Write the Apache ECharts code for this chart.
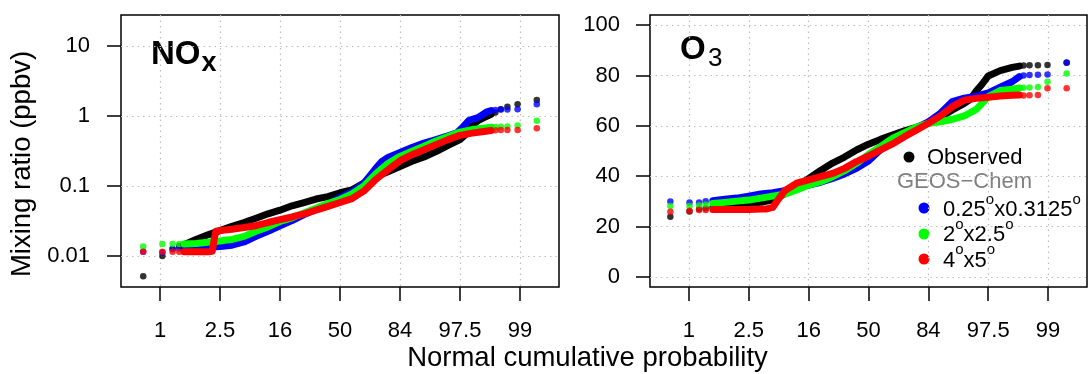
<!DOCTYPE html>
<html><head><meta charset="utf-8">
<script src="https://cdn.jsdelivr.net/npm/echarts@6/dist/echarts.min.js"></script>
<style>html,body{margin:0;padding:0;background:#fff}#c{width:1088px;height:374px}</style>
</head><body><div id="c"></div>
<script>
// ---- tick definitions ----
const xTickPos = [-3, -2, -1, 0, 1, 2, 3];
const xTickLabels = ['1', '2.5', '16', '50', '84', '97.5', '99'];
const noxTickVals = [0.01, 0.1, 1, 10];
const noxTickLabels = ['0.01', '0.1', '1', '10'];
const o3TickVals = [0, 20, 40, 60, 80, 100];

// ---- NOx panel (ppbv), normal quantile z vs value ----
const noxObsZ = [-2.6,-2.4,-2.2,-2.0,-1.8,-1.6,-1.4,-1.2,-1.0,-0.8,-0.6,-0.4,-0.2,0,0.2,0.4,0.6,0.8,1.0,1.2,1.4,1.6,1.8,2.0,2.1,2.2,2.3,2.4,2.52];
const noxObsV = [0.0145,0.0172,0.020,0.023,0.0265,0.030,0.0345,0.040,0.045,0.052,0.058,0.065,0.0705,0.080,0.088,0.110,0.136,0.160,0.190,0.225,0.26,0.31,0.38,0.46,0.55,0.72,0.86,0.95,1.06];
const noxObsTailZ = [-3.28,-2.96,-2.79,-2.68,2.59,2.68,2.79,2.96,3.28];
const noxObsTailV = [0.0051,0.0100,0.0125,0.0138,1.12,1.25,1.36,1.48,1.69];

const noxHiZ = [-2.6,-2.4,-2.2,-2.0,-1.8,-1.6,-1.4,-1.2,-1.0,-0.8,-0.6,-0.4,-0.2,0,0.2,0.4,0.5,0.6,0.7,0.8,1.0,1.2,1.4,1.6,1.8,1.95,2.05,2.15,2.3,2.45,2.52];
const noxHiV = [0.0129,0.0129,0.0132,0.0136,0.0142,0.0158,0.019,0.0225,0.027,0.032,0.039,0.046,0.055,0.068,0.082,0.11,0.14,0.18,0.225,0.255,0.30,0.355,0.41,0.46,0.52,0.575,0.70,0.87,0.95,1.15,1.2];
const noxHiTailZ = [-3.28,-2.96,-2.79,-2.68,2.59,2.68,2.79,2.96,3.28];
const noxHiTailV = [0.0115,0.0112,0.0126,0.0128,1.22,1.24,1.24,1.25,1.48];

const noxMidZ = [-2.6,-2.4,-2.2,-2.0,-1.9,-1.8,-1.6,-1.4,-1.2,-1.0,-0.8,-0.6,-0.4,-0.2,0,0.2,0.4,0.6,0.8,1.0,1.2,1.4,1.6,1.8,2.0,2.2,2.4,2.52];
const noxMidV = [0.0148,0.015,0.0157,0.0163,0.0169,0.0172,0.019,0.0225,0.026,0.031,0.035,0.041,0.048,0.056,0.064,0.077,0.10,0.15,0.21,0.265,0.315,0.37,0.44,0.51,0.59,0.64,0.67,0.69];
const noxMidTailZ = [-3.28,-2.96,-2.79,-2.68,2.59,2.68,2.79,2.96,3.28];
const noxMidTailV = [0.0136,0.0148,0.0148,0.0148,0.695,0.70,0.71,0.73,0.857];

const noxLoZ = [-2.6,-2.4,-2.2,-2.13,-2.10,-2.07,-2.0,-1.8,-1.6,-1.4,-1.2,-1.0,-0.8,-0.6,-0.4,-0.2,0,0.2,0.4,0.6,0.8,1.0,1.2,1.4,1.6,1.8,2.0,2.2,2.4,2.52];
const noxLoV = [0.0115,0.0115,0.0115,0.0116,0.0165,0.0225,0.023,0.024,0.0255,0.027,0.030,0.033,0.036,0.040,0.045,0.051,0.058,0.066,0.085,0.125,0.17,0.23,0.28,0.33,0.39,0.46,0.53,0.57,0.60,0.62];
const noxLoTailZ = [-3.28,-2.96,-2.79,-2.68,2.59,2.68,2.79,2.96,3.28];
const noxLoTailV = [0.0115,0.0115,0.0115,0.0115,0.625,0.63,0.63,0.63,0.667];

// ---- O3 panel (ppbv) ----
const o3ObsZ = [-2.6,-2.4,-2.2,-2.0,-1.8,-1.6,-1.4,-1.2,-1.0,-0.8,-0.6,-0.4,-0.2,0,0.2,0.4,0.6,0.8,1.0,1.2,1.4,1.6,1.7,1.8,1.9,2.0,2.2,2.4,2.52];
const o3ObsV = [27.6,28.0,28.5,29.0,29.6,30.6,33.0,35.6,39.0,42.3,45.2,47.6,50.4,52.7,54.6,56.3,58.0,59.4,61.0,63.4,66.3,68.9,70.5,73.8,76.6,79.8,81.9,83.2,83.7];
const o3ObsTailZ = [-3.31,-2.99,-2.83,-2.72,2.59,2.69,2.83,2.99,3.31];
const o3ObsTailV = [23.9,26.0,27.0,27.3,83.9,84.0,84.0,84.1,85.0];

const o3HiZ = [-2.6,-2.4,-2.2,-2.0,-1.8,-1.6,-1.4,-1.2,-1.0,-0.8,-0.6,-0.4,-0.2,0,0.2,0.4,0.6,0.8,1.0,1.2,1.4,1.6,1.8,2.0,2.2,2.4,2.52];
const o3HiV = [30.3,30.8,31.3,32.1,32.9,33.4,34.2,35.3,36.5,37.6,39.1,40.9,43.1,46.0,50.5,54.0,56.8,59.2,61.6,65.0,69.6,71.0,71.8,73.1,75.3,77.5,79.5];
const o3HiTailZ = [-3.31,-2.99,-2.83,-2.72,2.59,2.69,2.83,2.99,3.31];
const o3HiTailV = [29.9,29.6,29.6,30.0,80.0,80.2,80.3,80.4,85.1];

const o3MidZ = [-2.6,-2.4,-2.2,-2.0,-1.8,-1.6,-1.4,-1.2,-1.0,-0.8,-0.6,-0.4,-0.2,0,0.2,0.4,0.6,0.8,1.0,1.2,1.4,1.6,1.8,1.9,2.0,2.2,2.4,2.52];
const o3MidV = [29.2,29.6,30.1,30.5,31.3,32.1,32.9,34.5,36.5,37.8,39.8,42.2,45.1,48.6,51.7,55.0,57.3,59.4,61.0,61.6,62.6,63.9,66.5,69.0,71.6,74.0,74.5,75.0];
const o3MidTailZ = [-3.31,-2.99,-2.83,-2.72,2.59,2.69,2.83,2.99,3.31];
const o3MidTailV = [28.2,28.2,28.4,28.7,75.1,75.2,75.4,77.5,80.8];

const o3LoZ = [-2.6,-2.4,-2.2,-2.0,-1.8,-1.7,-1.6,-1.5,-1.4,-1.2,-1.0,-0.8,-0.6,-0.4,-0.2,0,0.2,0.4,0.6,0.8,1.0,1.2,1.4,1.6,1.8,2.0,2.2,2.4,2.52];
const o3LoV = [26.8,26.8,26.8,26.8,27.0,27.0,27.6,31.0,34.2,37.2,38.5,39.8,41.1,43.1,45.8,48.0,50.4,52.8,55.7,58.3,61.0,63.9,67.6,70.2,70.9,71.3,71.8,72.1,72.2];
const o3LoTailZ = [-3.31,-2.99,-2.83,-2.72,2.59,2.69,2.83,2.99,3.31];
const o3LoTailV = [25.9,26.3,26.6,26.6,72.0,72.1,72.2,74.9,74.9];

const COLORS = { obs: '#000000', hi: '#0000ff', mid: '#00ff00', lo: '#ff0000' };
const FONT = '"Liberation Sans", Arial, Helvetica, sans-serif';

const lg = v => Math.log10(v);
const id = v => v;

function bodySeries(gi, zs, vs, color, tf) {
  return { type: 'line', xAxisIndex: gi, yAxisIndex: gi, data: zs.map((z, i) => [z, tf(vs[i])]),
    symbol: 'none', showSymbol: false, silent: true, animation: false,
    lineStyle: { color: color, width: 7, cap: 'round', join: 'round' }, itemStyle: { color: color } };
}
function tailSeries(gi, zs, vs, color, tf) {
  return { type: 'scatter', xAxisIndex: gi, yAxisIndex: gi, data: zs.map((z, i) => [z, tf(vs[i])]),
    symbol: 'circle', symbolSize: 6.5, silent: true, animation: false, itemStyle: { color: color } };
}

const gridLine = { show: true, lineStyle: { color: '#bdbdbd', width: 1.2, type: [1.5, 4] } };
const tickStyle = { color: '#000', width: 1.5 };

function xAxisFor(gi) {
  return { gridIndex: gi, type: 'value', min: -3.65, max: 3.65,
    axisLine: { show: false, onZero: false },
    axisTick: { show: true, customValues: xTickPos, length: 14, inside: false, lineStyle: tickStyle },
    axisLabel: { customValues: xTickPos, margin: 33, fontSize: 22, color: '#000', fontFamily: FONT,
      formatter: v => { const i = xTickPos.findIndex(t => Math.abs(t - v) < 1e-6); return i >= 0 ? xTickLabels[i] : ''; } },
    splitLine: gridLine };
}

const noxTickLog = noxTickVals.map(lg);

const option = {
  animation: false,
  backgroundColor: '#fff',
  grid: [
    { left: 121, top: 15, width: 438, height: 272, show: true, borderColor: '#000', borderWidth: 1.5, backgroundColor: 'transparent' },
    { left: 650, top: 15, width: 437, height: 272, show: true, borderColor: '#000', borderWidth: 1.5, backgroundColor: 'transparent' }
  ],
  xAxis: [xAxisFor(0), xAxisFor(1)],
  yAxis: [
    { gridIndex: 0, type: 'value', min: -2.445, max: 1.445,
      axisLine: { show: false, onZero: false },
      axisTick: { show: true, customValues: noxTickLog, length: 14, lineStyle: tickStyle },
      axisLabel: { customValues: noxTickLog, margin: 31, fontSize: 22, color: '#000', fontFamily: FONT,
        formatter: v => { const i = noxTickLog.findIndex(t => Math.abs(t - v) < 1e-6); return i >= 0 ? noxTickLabels[i] : ''; } },
      splitLine: gridLine },
    { gridIndex: 1, type: 'value', min: -4, max: 104,
      axisLine: { show: false, onZero: false },
      axisTick: { show: true, customValues: o3TickVals, length: 14, lineStyle: tickStyle },
      axisLabel: { customValues: o3TickVals, margin: 30, fontSize: 22, color: '#000', fontFamily: FONT },
      splitLine: gridLine }
  ],
  series: [
    bodySeries(0, noxObsZ, noxObsV, COLORS.obs, lg), tailSeries(0, noxObsTailZ, noxObsTailV, COLORS.obs, lg),
    bodySeries(0, noxHiZ, noxHiV, COLORS.hi, lg), tailSeries(0, noxHiTailZ, noxHiTailV, COLORS.hi, lg),
    bodySeries(0, noxMidZ, noxMidV, COLORS.mid, lg), tailSeries(0, noxMidTailZ, noxMidTailV, COLORS.mid, lg),
    bodySeries(0, noxLoZ, noxLoV, COLORS.lo, lg), tailSeries(0, noxLoTailZ, noxLoTailV, COLORS.lo, lg),
    bodySeries(1, o3ObsZ, o3ObsV, COLORS.obs, id), tailSeries(1, o3ObsTailZ, o3ObsTailV, COLORS.obs, id),
    bodySeries(1, o3HiZ, o3HiV, COLORS.hi, id), tailSeries(1, o3HiTailZ, o3HiTailV, COLORS.hi, id),
    bodySeries(1, o3MidZ, o3MidV, COLORS.mid, id), tailSeries(1, o3MidTailZ, o3MidTailV, COLORS.mid, id),
    bodySeries(1, o3LoZ, o3LoV, COLORS.lo, id), tailSeries(1, o3LoTailZ, o3LoTailV, COLORS.lo, id)
  ],
  graphic: [
    // axis titles
    { type: 'text', x: 587.5, y: 358.5, silent: true, style: { text: 'Normal cumulative probability', fontSize: 27.5, fontFamily: FONT, fill: '#000', align: 'center', verticalAlign: 'middle' } },
    { type: 'text', x: 22, y: 164, rotation: Math.PI / 2, silent: true, style: { text: 'Mixing ratio (ppbv)', fontSize: 27.5, fontFamily: FONT, fill: '#000', align: 'center', verticalAlign: 'middle' } },
    // panel titles
    { type: 'text', x: 151, y: 54.5, silent: true, style: { text: 'NO', fontSize: 33, fontWeight: 'bold', fontFamily: FONT, fill: '#000', align: 'left', verticalAlign: 'middle' } },
    { type: 'text', x: 201.5, y: 63.6, silent: true, style: { text: 'x', fontSize: 27, fontWeight: 'bold', fontFamily: FONT, fill: '#000', align: 'left', verticalAlign: 'middle' } },
    { type: 'text', x: 680, y: 50.4, silent: true, style: { text: 'O', fontSize: 33, fontWeight: 'bold', fontFamily: FONT, fill: '#000', align: 'left', verticalAlign: 'middle' } },
    { type: 'text', x: 708, y: 58.8, silent: true, style: { text: '3', fontSize: 26, fontFamily: FONT, fill: '#000', align: 'left', verticalAlign: 'middle' } },
    // legend
    { type: 'circle', silent: true, shape: { cx: 909, cy: 157, r: 5.5 }, style: { fill: COLORS.obs } },
    { type: 'text', x: 927, y: 158.3, silent: true, style: { text: 'Observed', fontSize: 22, fontFamily: FONT, fill: '#000', align: 'left', verticalAlign: 'middle' } },
    { type: 'text', x: 964.5, y: 181.7, silent: true, style: { text: 'GEOS\u2212Chem', fontSize: 22, fontFamily: FONT, fill: '#808080', align: 'center', verticalAlign: 'middle' } },
    { type: 'circle', silent: true, shape: { cx: 924, cy: 208, r: 5.5 }, style: { fill: COLORS.hi } },
    { type: 'circle', silent: true, shape: { cx: 924, cy: 234, r: 5.5 }, style: { fill: COLORS.mid } },
    { type: 'circle', silent: true, shape: { cx: 924, cy: 259, r: 5.5 }, style: { fill: COLORS.lo } },
    { type: 'text', x: 943, y: 192, silent: true, style: { text: '{n|0.25}{s|o}{n|x0.3125}{s|o}', align: 'left', verticalAlign: 'top',
        rich: { n: { fontSize: 22, lineHeight: 22, verticalAlign: 'bottom', fontFamily: FONT, fill: '#000' }, s: { fontSize: 15, lineHeight: 29, verticalAlign: 'top', fontFamily: FONT, fill: '#000' } } } },
    { type: 'text', x: 943, y: 217, silent: true, style: { text: '{n|2}{s|o}{n|x2.5}{s|o}', align: 'left', verticalAlign: 'top',
        rich: { n: { fontSize: 22, lineHeight: 22, verticalAlign: 'bottom', fontFamily: FONT, fill: '#000' }, s: { fontSize: 15, lineHeight: 29, verticalAlign: 'top', fontFamily: FONT, fill: '#000' } } } },
    { type: 'text', x: 943, y: 242.5, silent: true, style: { text: '{n|4}{s|o}{n|x5}{s|o}', align: 'left', verticalAlign: 'top',
        rich: { n: { fontSize: 22, lineHeight: 22, verticalAlign: 'bottom', fontFamily: FONT, fill: '#000' }, s: { fontSize: 15, lineHeight: 29, verticalAlign: 'top', fontFamily: FONT, fill: '#000' } } } }
  ]
};

const chart = echarts.init(document.getElementById('c'), null, { renderer: 'canvas' });
chart.setOption(option);
</script>
</body></html>
